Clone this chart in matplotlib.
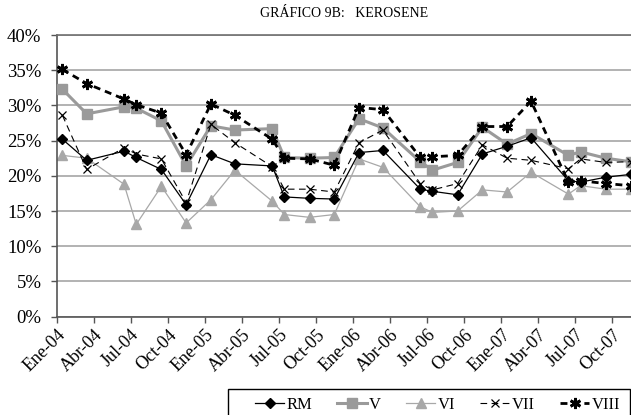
import matplotlib
matplotlib.use("Agg")
import matplotlib.pyplot as plt
import pandas as pd
from matplotlib.patches import Rectangle

plt.rcParams['font.family'] = ['Liberation Serif', 'DejaVu Serif']

# survey dates (mid-month)
dates = ['2004-01-15', '2004-03-15', '2004-06-15', '2004-07-15', '2004-09-15', '2004-11-15',
         '2005-01-15', '2005-03-15', '2005-06-15', '2005-07-15', '2005-09-15', '2005-11-15',
         '2006-01-15', '2006-03-15', '2006-06-15', '2006-07-15', '2006-09-15', '2006-11-15',
         '2007-01-15', '2007-03-15', '2007-06-15', '2007-07-15', '2007-09-15', '2007-11-15']

rm = [25.2, 22.2, 23.5, 22.6, 20.9, 15.9, 23.0, 21.7, 21.4, 17.0, 16.8, 16.7,
      23.3, 23.6, 18.1, 17.8, 17.3, 23.1, 24.2, 25.4, 19.3, 19.1, 19.8, 20.2]
v = [32.3, 28.8, 29.8, 29.6, 27.8, 21.4, 27.1, 26.5, 26.7, 22.6, 22.5, 22.6,
     28.1, 26.8, 22.0, 20.8, 21.9, 26.9, 24.5, 26.0, 22.9, 23.4, 22.5, 22.0]
vi = [22.9, 22.5, 18.8, 13.1, 18.5, 13.3, 16.6, 20.8, 16.4, 14.5, 14.1, 14.5,
      22.4, 21.2, 15.6, 14.8, 15.0, 18.0, 17.7, 20.5, 17.4, 18.6, 18.1, 18.1]
vii = [28.6, 20.9, 24.0, 23.1, 22.4, 16.2, 27.3, 24.7, 21.3, 18.1, 18.1, 17.7,
       24.7, 26.5, 18.9, 18.0, 18.9, 24.4, 22.5, 22.2, 21.0, 22.4, 21.9, 22.0]
viii = [35.1, 33.1, 30.9, 30.1, 28.9, 23.0, 30.2, 28.6, 25.2, 22.5, 22.4, 21.5,
        29.7, 29.4, 22.6, 22.7, 22.9, 27.0, 27.0, 30.6, 19.1, 19.3, 18.9, 18.6]

tick_labels = ['Ene-04', 'Abr-04', 'Jul-04', 'Oct-04', 'Ene-05', 'Abr-05', 'Jul-05', 'Oct-05',
               'Ene-06', 'Abr-06', 'Jul-06', 'Oct-06', 'Ene-07', 'Abr-07', 'Jul-07', 'Oct-07']

x = pd.to_datetime(dates)
W, H = 631, 415

fig = plt.figure(figsize=(6.31, 4.15), dpi=100)
ax = fig.add_axes([56.7 / W, 1 - 316.6 / H, (630.5 - 56.7) / W, (316.6 - 35) / H])

ax.plot(x, rm, color='black', lw=0.9, marker='D', ms=5, label='RM', clip_on=False, zorder=5)
ax.plot(x, v, color='#9a9a9a', lw=2.2, marker='s', ms=6.5, label='V', clip_on=False, zorder=3)
ax.plot(x, vi, color='#a8a8a8', lw=0.9, marker='^', ms=7, label='VI', clip_on=False, zorder=2)
ax.plot(x, vii, color='black', lw=0.8, ls=(0, (6, 4)), marker='x', ms=6, mew=0.9,
        label='VII', clip_on=False, zorder=4)
ax.plot(x, viii, color='black', lw=2.0, ls=(0, (2.5, 1.8)), marker=(6, 2, 0), ms=8, mew=2.0,
        label='VIII', clip_on=False, zorder=4)

ax.set_ylim(0, 40)
ax.set_yticks(range(0, 41, 5))
ax.set_yticklabels(['%d%%' % t for t in range(0, 41, 5)], fontsize=13.5)
ax.set_xlim(pd.Timestamp('2004-01-01'), pd.Timestamp('2007-11-15'))
ax.set_xticks(pd.date_range('2004-01-01', '2007-10-01', freq='3MS'))
ax.set_xticklabels(tick_labels, fontsize=13, rotation=45, ha='right', rotation_mode='anchor')

ax.grid(axis='y', color='#a6a6a6', lw=1.2)
ax.set_axisbelow(True)
ax.spines['right'].set_visible(False)
ax.spines['top'].set_color('#707070')
ax.spines['top'].set_linewidth(1.2)
for s in ['left', 'bottom']:
    ax.spines[s].set_color('#555555')
    ax.spines[s].set_linewidth(1.2)
ax.tick_params(axis='both', length=4, width=1, color='#555555')
ax.tick_params(axis='y', pad=7)
ax.tick_params(axis='x', pad=3)

ax.set_title('GRÁFICO 9B:   KEROSENE', fontsize=10, pad=13)

# legend box like the excel one, entries placed inside it
fig.patches.append(Rectangle((228 / W, 1 - 422 / H), (630 - 228) / W, 33 / H,
                             transform=fig.transFigure, fill=False, edgecolor='black',
                             lw=1.0, clip_on=False))
leg = fig.legend(loc='center left', bbox_to_anchor=(255 / W, 1 - 405 / H), ncol=5,
                 fontsize=12, frameon=False, handlelength=1.75, handletextpad=0.15,
                 columnspacing=1.5, borderpad=0, borderaxespad=0)

fig.savefig('out.png', dpi=100)
